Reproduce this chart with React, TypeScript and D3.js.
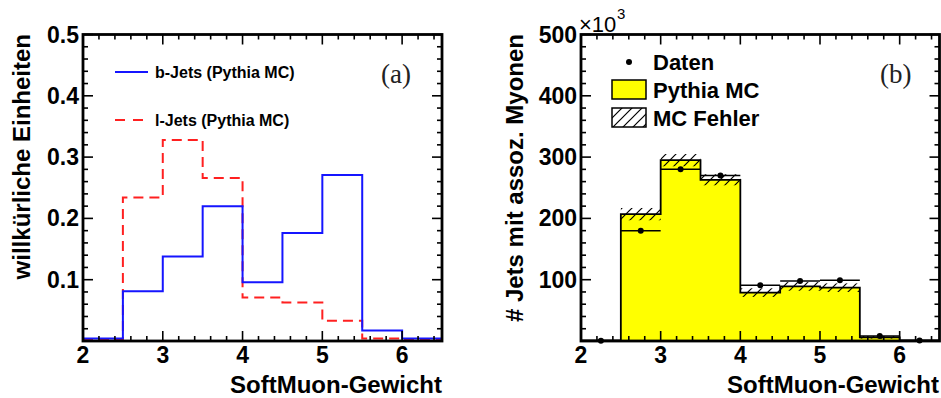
import React from "react";
import * as d3 from "d3";

// Bin edges of the SoftMuon weight histograms
const binEdges = [2, 2.5, 3, 3.5, 4, 4.5, 5, 5.5, 6, 6.5];

// (a) normalised shapes
const bJets = [0.004, 0.081, 0.138, 0.22, 0.096, 0.176, 0.271, 0.017, 0.004];
const lJets = [0.003, 0.234, 0.328, 0.266, 0.071, 0.063, 0.033, 0.004, 0.002];

// (b) counts in units of 10^3
const mcCounts = [1, 207, 295, 263, 79, 89, 87, 6, 1];
const mcErrors = [0.5, 10, 10, 9, 7, 7, 7, 2, 0.5];
const dataCounts = [0.5, 180, 280, 270, 91, 98, 99, 8, 1];

const xTickLabels = [2, 3, 4, 5, 6];
const yTicksLeft = [0.1, 0.2, 0.3, 0.4, 0.5];
const yTicksRight = [100, 200, 300, 400, 500];

const W = 941;
const H = 398;
const TOP = 34.5;
const BOTTOM = 341;
const SANS = "'Liberation Sans', Arial, Helvetica, sans-serif";
const SERIF = "'Liberation Serif', 'Times New Roman', serif";

type Scale = d3.ScaleLinear<number, number>;

function stepPoints(vals: number[]): [number, number][] {
  const pts: [number, number][] = vals.map((v, i) => [binEdges[i], v]);
  pts.push([binEdges[binEdges.length - 1], vals[vals.length - 1]]);
  return pts;
}

function Frame({
  x,
  y,
  yMinorStep,
  yMajor,
  yFmt,
}: {
  x: Scale;
  y: Scale;
  yMinorStep: number;
  yMajor: number[];
  yFmt: (v: number) => string;
}) {
  const [x0, x1] = x.range();
  const [yb, yt] = y.range();
  const [ymin, ymax] = y.domain();
  const major = 10;
  const minor = 5;
  const xMinor = d3.range(0, 23).filter((i) => i % 5 !== 0).map((i) => 2 + i * 0.2);
  const nY = Math.round((ymax - ymin) / yMinorStep);
  const yMinor = d3
    .range(1, nY)
    .filter((i) => i % 5 !== 0)
    .map((i) => ymin + i * yMinorStep);
  const ticks: JSX.Element[] = [];
  xTickLabels.forEach((v, i) => {
    const px = x(v);
    ticks.push(<line key={"xb" + i} x1={px} x2={px} y1={yb} y2={yb - major} />);
    ticks.push(<line key={"xt" + i} x1={px} x2={px} y1={yt} y2={yt + major} />);
  });
  xMinor.forEach((v, i) => {
    const px = x(v);
    ticks.push(<line key={"xbm" + i} x1={px} x2={px} y1={yb} y2={yb - minor} />);
    ticks.push(<line key={"xtm" + i} x1={px} x2={px} y1={yt} y2={yt + minor} />);
  });
  yMajor.forEach((v, i) => {
    const py = y(v);
    ticks.push(<line key={"yl" + i} x1={x0} x2={x0 + major} y1={py} y2={py} />);
    ticks.push(<line key={"yr" + i} x1={x1} x2={x1 - major} y1={py} y2={py} />);
  });
  yMinor.forEach((v, i) => {
    const py = y(v);
    ticks.push(<line key={"ylm" + i} x1={x0} x2={x0 + minor} y1={py} y2={py} />);
    ticks.push(<line key={"yrm" + i} x1={x1} x2={x1 - minor} y1={py} y2={py} />);
  });
  return (
    <g>
      <g stroke="#000" strokeWidth={1.6}>{ticks}</g>
      <rect
        x={x0}
        y={yt}
        width={x1 - x0}
        height={yb - yt}
        fill="none"
        stroke="#000"
        strokeWidth={2.8}
      />
      <g fontFamily={SANS} fontWeight="bold" fontSize={23} fill="#000">
        {xTickLabels.map((v) => (
          <text key={"xl" + v} x={x(v)} y={363} textAnchor="middle">
            {v}
          </text>
        ))}
        {yMajor.map((v) => (
          <text key={"yl" + v} x={x0 - 4} y={y(v) + 8} textAnchor="end">
            {yFmt(v)}
          </text>
        ))}
      </g>
    </g>
  );
}

function LeftPanel() {
  const x = d3.scaleLinear().domain([2, 6.5]).range([83, 442]);
  const y = d3.scaleLinear().domain([0, 0.5]).range([BOTTOM, TOP]);
  const line = d3
    .line<[number, number]>()
    .x((d) => x(d[0]))
    .y((d) => y(d[1]))
    .curve(d3.curveStepAfter);
  return (
    <g>
      <path d={line(stepPoints(lJets)) || ""} fill="none" stroke="#ff2020" strokeWidth={2} strokeDasharray="10,6" />
      <path d={line(stepPoints(bJets)) || ""} fill="none" stroke="#1515ff" strokeWidth={2} />
      <Frame x={x} y={y} yMinorStep={0.02} yMajor={yTicksLeft} yFmt={(v) => d3.format(".1f")(v)} />
      {/* legend */}
      <line x1={115} x2={148} y1={72} y2={72} stroke="#1515ff" strokeWidth={2} />
      <line x1={115} x2={148} y1={120} y2={120} stroke="#ff2020" strokeWidth={2} strokeDasharray="10,8" />
      <g fontFamily={SANS} fontWeight="bold" fontSize={16} fill="#000">
        <text x={155} y={77.5}>b-Jets (Pythia MC)</text>
        <text x={155} y={125.5}>l-Jets (Pythia MC)</text>
      </g>
      <text x={381} y={83} fontFamily={SERIF} fontSize={27} fill="#222">
        (a)
      </text>
      <text
        transform="translate(30,34) rotate(-90)"
        textAnchor="end"
        fontFamily={SANS}
        fontWeight="bold"
        fontSize={24}
        fill="#000"
      >
        willkürliche Einheiten
      </text>
      <text x={442} y={393} textAnchor="end" fontFamily={SANS} fontWeight="bold" fontSize={24} fill="#000">
        SoftMuon-Gewicht
      </text>
    </g>
  );
}

function RightPanel() {
  const x = d3.scaleLinear().domain([2, 6.5]).range([581, 939.5]);
  const y = d3.scaleLinear().domain([0, 500]).range([BOTTOM, TOP]);
  const pts = stepPoints(mcCounts);
  const area = d3
    .area<[number, number]>()
    .x((d) => x(d[0]))
    .y0(y(0))
    .y1((d) => y(d[1]))
    .curve(d3.curveStepAfter);
  const line = d3
    .line<[number, number]>()
    .x((d) => x(d[0]))
    .y((d) => y(d[1]))
    .curve(d3.curveStepAfter);
  return (
    <g>
      <defs>
        <pattern id="mcHatch" patternUnits="userSpaceOnUse" width={10} height={10}>
          <path d="M-2,2 L2,-2 M0,10 L10,0 M8,12 L12,8" stroke="#000" strokeWidth={1.2} />
        </pattern>
      </defs>
      <path d={area(pts) || ""} fill="#ffff00" stroke="none" />
      <path d={line(pts) || ""} fill="none" stroke="#000" strokeWidth={1.8} />
      {mcCounts.map((v, i) => (
        <rect
          key={"h" + i}
          x={x(binEdges[i])}
          width={x(binEdges[i + 1]) - x(binEdges[i])}
          y={y(v + mcErrors[i])}
          height={y(v - mcErrors[i]) - y(v + mcErrors[i])}
          fill="url(#mcHatch)"
        />
      ))}
      {dataCounts.map((v, i) => (
        <g key={"d" + i}>
          <line
            x1={x(binEdges[i])}
            x2={x(binEdges[i + 1])}
            y1={y(v)}
            y2={y(v)}
            stroke="#000"
            strokeWidth={1.5}
          />
          <circle cx={x((binEdges[i] + binEdges[i + 1]) / 2)} cy={y(v)} r={3} fill="#000" />
        </g>
      ))}
      <Frame x={x} y={y} yMinorStep={20} yMajor={yTicksRight} yFmt={(v) => String(v)} />
      <text x={579} y={32} fontFamily={SANS} fontSize={22} fill="#000">
        ×10
      </text>
      <text x={617} y={19} fontFamily={SANS} fontSize={15} fill="#000">
        3
      </text>
      {/* legend */}
      <circle cx={629} cy={62} r={3} fill="#000" />
      <rect x={612} y={80} width={34} height={19} fill="#ffff00" stroke="#000" strokeWidth={1.5} />
      <rect x={612} y={108} width={34} height={19} fill="#fff" stroke="none" />
      <rect x={612} y={108} width={34} height={19} fill="url(#mcHatch)" stroke="#000" strokeWidth={1.5} />
      <g fontFamily={SANS} fontWeight="bold" fontSize={22} fill="#000">
        <text x={653} y={70}>Daten</text>
        <text x={653} y={98}>Pythia MC</text>
        <text x={653} y={126}>MC Fehler</text>
      </g>
      <text x={880} y={83} fontFamily={SERIF} fontSize={27} fill="#222">
        (b)
      </text>
      <text
        transform="translate(523,34) rotate(-90)"
        textAnchor="end"
        fontFamily={SANS}
        fontWeight="bold"
        fontSize={24}
        fill="#000"
      >
        # Jets mit assoz. Myonen
      </text>
      <text x={939} y={393} textAnchor="end" fontFamily={SANS} fontWeight="bold" fontSize={24} fill="#000">
        SoftMuon-Gewicht
      </text>
    </g>
  );
}

export default function App() {
  return (
    <svg
      width={W}
      height={H}
      viewBox={`0 0 ${W} ${H}`}
      style={{ position: "absolute", left: 0, top: 0, background: "#fff" }}
    >
      <rect x={0} y={0} width={W} height={H} fill="#fff" />
      <LeftPanel />
      <RightPanel />
    </svg>
  );
}
